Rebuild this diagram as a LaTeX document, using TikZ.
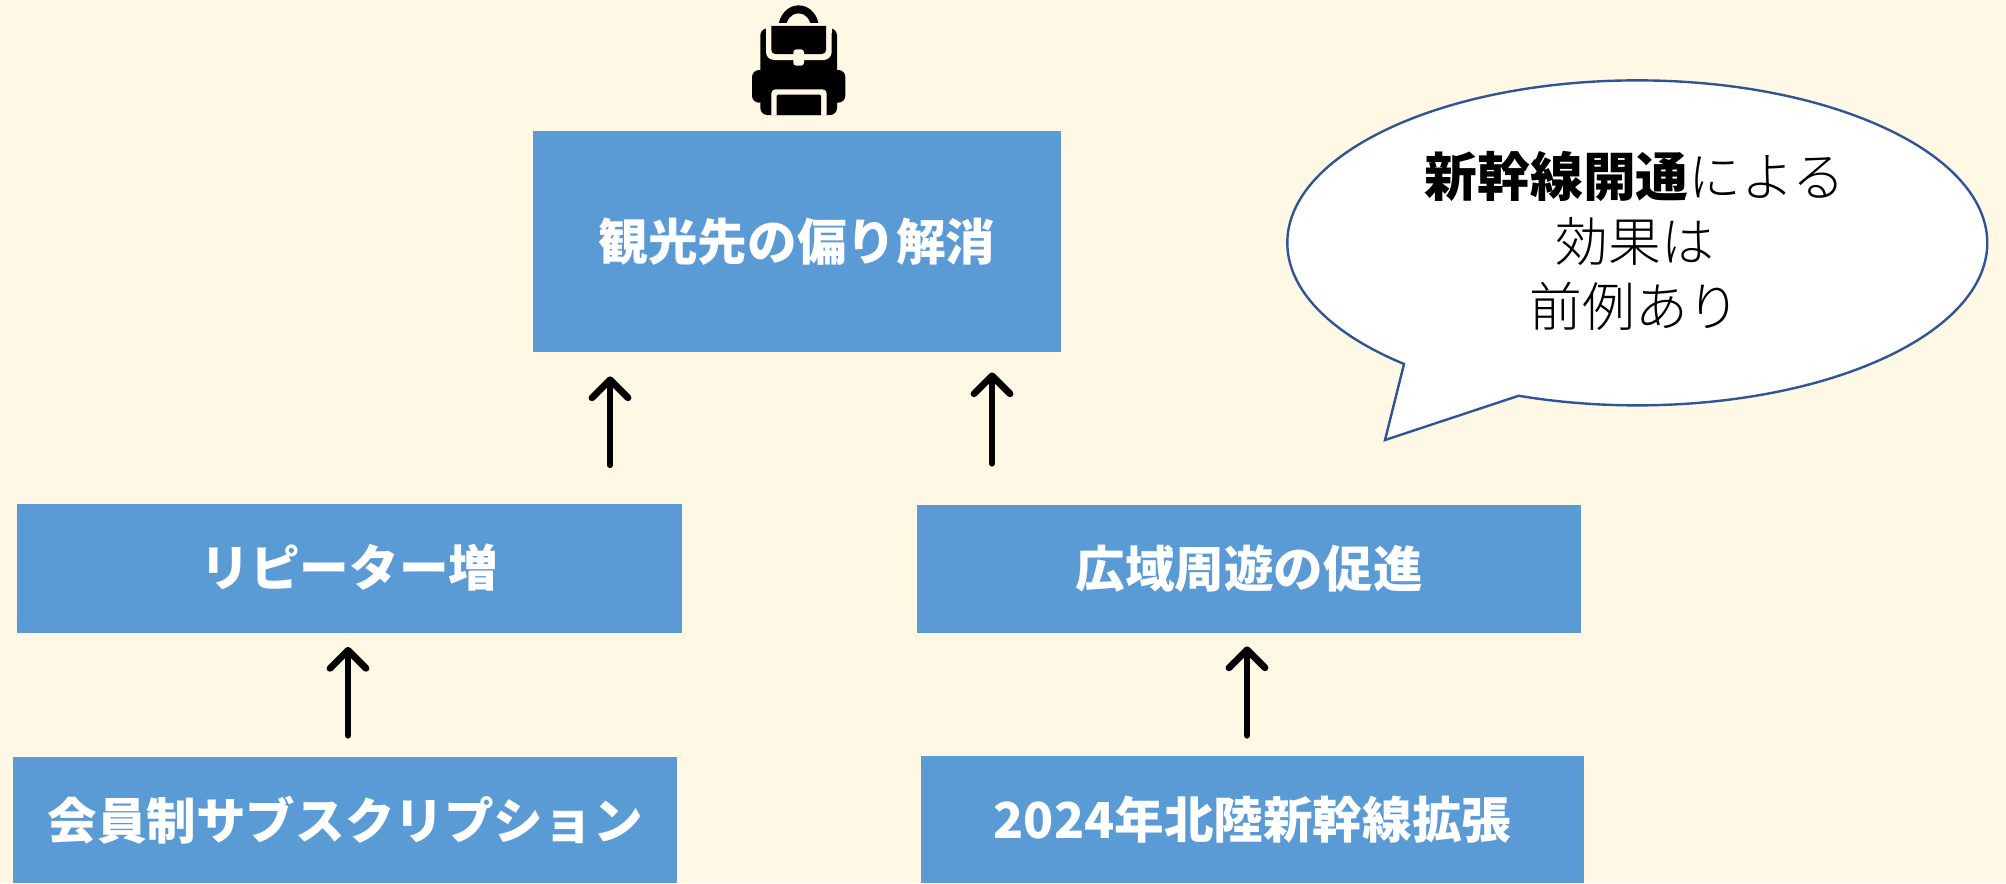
\documentclass[tikz,border=0pt]{standalone}
\usepackage{fontspec}
\setmainfont{Noto Sans CJK JP}
\newfontfamily\lightjp{Noto Sans CJK JP Light}
\usetikzlibrary{arrows.meta}
\definecolor{bgc}{HTML}{FFF8E5}
\definecolor{boxc}{HTML}{5B9BD5}
\definecolor{edgec}{HTML}{2F5597}
\tikzset{
  bluebox/.style={fill=boxc,draw=none,inner sep=0pt,text=white,font=\fontsize{24.8}{30}\selectfont\bfseries},
  upward/.style={draw=black,line width=3pt,line cap=round,line join=round,-{Straight Barb[length=9pt,width=18pt,round,line width=3.4pt]}},
  callout/.style={fill=white,draw=edgec,line width=1.2pt,line join=miter},
  calltext/.style={align=center,inner sep=0pt,text=black,font=\fontsize{26.4}{32.3}\selectfont\lightjp},
  packink/.style={fill=black,draw=none},
  packcut/.style={fill=bgc,draw=none}
}
\begin{document}
\begin{tikzpicture}[x=0.5pt,y=-0.5pt]
\useasboundingbox (0,0) rectangle (2006,883);
\fill[bgc] (0,0) rectangle (2006,883);
% backpack icon
\begin{scope}[shift={(700,0)},x=0.1666667pt,y=-0.1666667pt]
  \fill[packink] (235,85) arc[start angle=180,end angle=0,x radius=10.17pt,y radius=11.5pt] -- (357,100) -- (235,100) -- cycle;
  \fill[packcut] (258,85) arc[start angle=180,end angle=0,x radius=6.25pt,y radius=7.5pt] -- (333,90) -- (258,90) -- cycle;
  \fill[packink,rounded corners=3.5pt] (181,85) rectangle (411,345);
  \fill[packink,rounded corners=3.5pt] (156,210) rectangle (436,308);
  \fill[packcut,rounded corners=4pt] (198,70) rectangle (395,180);
  \fill[packcut] (198,70) rectangle (395,100);
  \fill[packink] (214,78) -- (378,78) -- (378,150) to[out=-90,in=0] (366,162) -- (226,162) to[out=180,in=-90] (214,150) -- cycle;
  \fill[packcut,rounded corners=1.5pt] (280,148) rectangle (312,197);
  \fill[packcut] (214,346) -- (214,280) to[out=90,in=180] (226,268) -- (368,268) to[out=0,in=90] (380,280) -- (380,346) -- cycle;
  \fill[packink] (230,345) -- (230,288) to[out=90,in=180] (234,284) -- (359,284) to[out=0,in=90] (363,288) -- (363,345) -- cycle;
\end{scope}
% boxes
\node[bluebox,minimum width=264pt,minimum height=110.5pt] (top) at (797,241.5) {\raisebox{1pt}{観光先の偏り解消}};
\node[bluebox,minimum width=332.5pt,minimum height=64.5pt] (rep) at (349.5,568) {\raisebox{1.5pt}{リピーター増}};
\node[bluebox,minimum width=332pt,minimum height=64pt] (wide) at (1249,569) {広域周遊の促進};
\node[bluebox,minimum width=332pt,minimum height=63pt] (sub) at (345,820) {会員制サブスクリプション};
\node[bluebox,minimum width=331.5pt,minimum height=63.5pt] (ext) at (1252.5,819.5) {2024年北陸新幹線拡張};
% arrows
\coordinate (ax1) at (610,0);
\coordinate (ax2) at (992,0);
\coordinate (ax3) at (348,0);
\coordinate (ax4) at (1247,0);
\draw[upward,shorten <=19pt,shorten >=12pt] (rep.north -| ax1) -- (top.south -| ax1);
\draw[upward,shorten <=20.5pt,shorten >=10pt] (wide.north -| ax2) -- (top.south -| ax2);
\draw[upward,shorten <=10.5pt,shorten >=7pt] (sub.north -| ax3) -- (rep.south -| ax3);
\draw[upward,shorten <=10pt,shorten >=6.5pt] (ext.north -| ax4) -- (wide.south -| ax4);
% speech bubble
\coordinate (tailA) at (1404,364);
\coordinate (tailTip) at (1385,440);
\draw[callout] (tailA) arc[start angle=228.2,end angle=-109.8,x radius=175pt,y radius=81.25pt] -- (tailTip) -- cycle;
\node[calltext] (say) at (1635,241) {{\bfseries\rmfamily 新幹線開通}による\\効果は\\前例あり};
\end{tikzpicture}
\end{document}
